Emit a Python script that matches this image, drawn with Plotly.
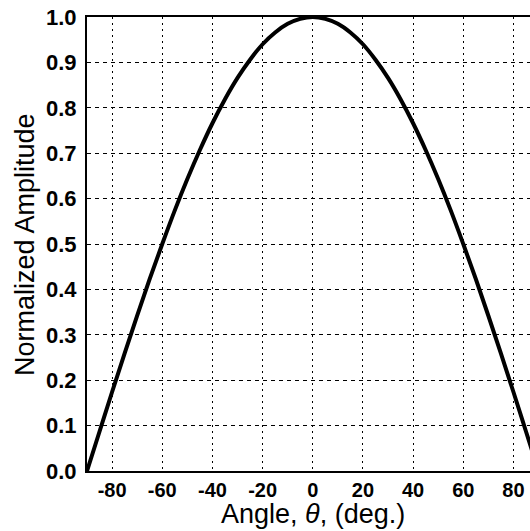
import plotly.graph_objects as go

# Angle (deg) and normalized amplitude
angle_deg = [-90, -85, -80, -75, -70, -65, -60, -55, -50, -45, -40, -35, -30, -25,
             -20, -15, -10, -5, 0, 5, 10, 15, 20, 25, 30, 35, 40, 45, 50, 55, 60,
             65, 70, 75, 80, 85, 90]
amplitude = [0.00, 0.087, 0.174, 0.259, 0.342, 0.423, 0.500, 0.574, 0.643, 0.707,
             0.766, 0.819, 0.866, 0.906, 0.940, 0.966, 0.985, 0.996, 1.000, 0.996,
             0.985, 0.966, 0.940, 0.906, 0.866, 0.819, 0.766, 0.707, 0.643, 0.574,
             0.500, 0.423, 0.342, 0.259, 0.174, 0.087, 0.00]

x_ticks = [-80, -60, -40, -20, 0, 20, 40, 60, 80]
y_ticks = [0.0, 0.1, 0.2, 0.3, 0.4, 0.5, 0.6, 0.7, 0.8, 0.9, 1.0]
y_ticktext = ["0.0", "0.1", "0.2", "0.3", "0.4", "0.5", "0.6", "0.7", "0.8", "0.9", "1.0"]

x_title = "Angle, <i>θ</i>, (deg.)"
y_title = "Normalized Amplitude"

fig = go.Figure()
fig.add_trace(go.Scatter(x=angle_deg, y=amplitude, mode="lines",
                         line=dict(color="black", width=4, shape="spline"),
                         showlegend=False))

fig.update_layout(
    width=530, height=531,
    margin=dict(l=87, r=0, t=17, b=60),
    paper_bgcolor="white", plot_bgcolor="white",
    font=dict(family="Liberation Sans, Arial, sans-serif", color="black"),
)
fig.update_xaxes(
    range=[-90, 86.6], tickvals=x_ticks, ticktext=[str(v) for v in x_ticks],
    tickfont=dict(size=20, family="Liberation Sans, Arial", weight="bold"),
    showgrid=True, gridcolor="black", gridwidth=1, griddash="2px,4px",
    showline=True, linecolor="black", linewidth=2, mirror=True,
    ticks="", zeroline=False,
)
fig.update_yaxes(
    range=[0, 1.0], tickvals=y_ticks, ticktext=y_ticktext,
    tickfont=dict(size=22, family="Liberation Sans, Arial", weight="bold"),
    showgrid=True, gridcolor="black", gridwidth=1, griddash="4px,4px",
    showline=True, linecolor="black", linewidth=2, mirror=False,
    ticks="", zeroline=False, ticklabelstandoff=4,
)
fig.add_annotation(text=x_title, x=0, xref="x", y=-0.095, yref="paper",
                   xanchor="center", yanchor="middle", showarrow=False,
                   font=dict(size=27))
fig.add_annotation(text=y_title, x=-0.14, xref="paper", y=0.5, yref="paper",
                   xanchor="center", yanchor="middle", showarrow=False,
                   textangle=-90, font=dict(size=27))

fig.write_html("out.html")
